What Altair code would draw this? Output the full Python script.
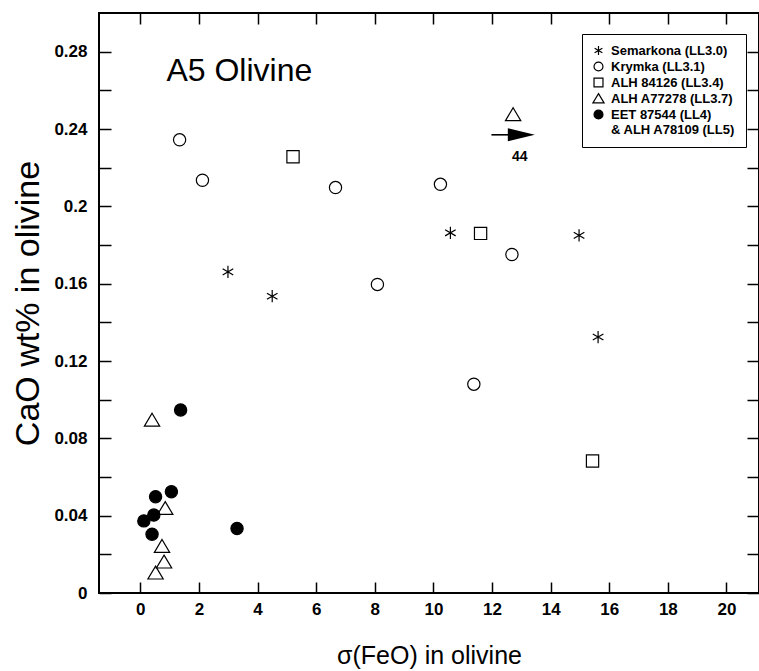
import altair as alt
import pandas as pd

# ---------------- data ----------------
series_names = [
    "Semarkona (LL3.0)",
    "Krymka (LL3.1)",
    "ALH 84126 (LL3.4)",
    "ALH A77278 (LL3.7)",
    "EET 87544 (LL4)",
    "& ALH A78109 (LL5)",
]

semarkona_x = [2.99, 4.50, 10.58, 14.97, 15.62]
semarkona_y = [0.1661, 0.1535, 0.1863, 0.1850, 0.1324]

krymka_x = [1.34, 2.12, 6.66, 8.09, 10.24, 12.68, 11.38]
krymka_y = [0.2344, 0.2135, 0.2097, 0.1596, 0.2114, 0.1751, 0.1080]

alh84126_x = [5.21, 11.61, 15.43]
alh84126_y = [0.2256, 0.1860, 0.0683]

alhA77278_x = [12.72, 0.40, 0.85, 0.74, 0.81, 0.52]
alhA77278_y = [0.2475, 0.0895, 0.0438, 0.0242, 0.0161, 0.0104]

eet_x = [1.375, 0.52, 1.06, 0.46, 0.12, 0.40, 3.30]
eet_y = [0.0947, 0.0498, 0.0524, 0.0403, 0.0373, 0.0304, 0.0334]

x_ticks = [0, 2, 4, 6, 8, 10, 12, 14, 16, 18, 20]
y_ticks = [0, 0.02, 0.04, 0.06, 0.08, 0.10, 0.12, 0.14, 0.16, 0.18, 0.20, 0.22, 0.24, 0.26, 0.28]

panel_label = ["A5 Olivine"]
panel_label_x = [0.89]
panel_label_y = [0.2702]

arrow_tail_x = [11.98]
arrow_neck_x = [12.62]
arrow_head_x = [13.0]
arrow_y = [0.2370]
arrow_text = ["44"]
arrow_text_x = [12.95]
arrow_text_y = [0.2255]

# ---------------- tables ----------------
rows = []
for name, xs, ys in [
    (series_names[0], semarkona_x, semarkona_y),
    (series_names[1], krymka_x, krymka_y),
    (series_names[2], alh84126_x, alh84126_y),
    (series_names[3], alhA77278_x, alhA77278_y),
    (series_names[4], eet_x, eet_y),
]:
    for xv, yv in zip(xs, ys):
        rows.append({"series": name, "sigma": xv, "cao": yv})
df = pd.DataFrame(rows)

label_df = pd.DataFrame({"t": panel_label, "x": panel_label_x, "y": panel_label_y})
arrow_df = pd.DataFrame({"x": arrow_tail_x, "x2": arrow_neck_x, "xh": arrow_head_x, "y": arrow_y})
arrow_txt_df = pd.DataFrame({"t": arrow_text, "x": arrow_text_x, "y": arrow_text_y})

asterisk = "M0,-1L0,1M-0.866,-0.5L0.866,0.5M-0.866,0.5L0.866,-0.5"
triangle = "M0,-1.1L1.25,1L-1.25,1Z"
blank = "M0,0L0,0"
shape_range = [asterisk, "circle", "square", triangle, "circle", blank]
fill_range = ["transparent", "transparent", "transparent", "transparent", "black", "transparent"]
stroke_range = ["black", "black", "black", "black", "black", "transparent"]

FONT = "Liberation Sans"

x_scale = alt.Scale(domain=[-1.41, 21.11], nice=False, zero=False)
y_scale = alt.Scale(domain=[0, 0.3], nice=False, zero=False)

label_expr = "round(datum.value*100) % 4 == 0 ? '' + (round(datum.value*100)/100) : ''"

legend = alt.Legend(
    title=None,
    orient="none",
    legendX=483,
    legendY=21,
    strokeColor="black",
    padding=10,
    labelFont=FONT,
    labelFontWeight="bold",
    labelFontSize=13,
    labelColor="black",
    labelOffset=6,
    rowPadding=1,
    symbolSize=80,
    symbolStrokeWidth=1.2,
    fillColor="white",
)

points = alt.Chart(df).mark_point(size=150, strokeWidth=1.2, opacity=1).encode(
    x=alt.X(
        "sigma:Q",
        scale=x_scale,
        axis=alt.Axis(
            orient="bottom",
            values=x_ticks,
            title="σ(FeO) in olivine",
            offset=-11,
            tickSize=11,
            domain=False,
            labelPadding=8,
            titlePadding=26,
        ),
    ),
    y=alt.Y(
        "cao:Q",
        scale=y_scale,
        axis=alt.Axis(
            orient="left",
            values=y_ticks,
            labelExpr=label_expr,
            title="CaO wt% in olivine",
            offset=-12,
            tickSize=12,
            domain=False,
            labelPadding=12,
            titlePadding=8,
        ),
    ),
    shape=alt.Shape("series:N", scale=alt.Scale(domain=series_names, range=shape_range), legend=legend),
    fill=alt.Fill("series:N", scale=alt.Scale(domain=series_names, range=fill_range), legend=legend),
    stroke=alt.Stroke("series:N", scale=alt.Scale(domain=series_names, range=stroke_range), legend=legend),
)

panel = alt.Chart(label_df).mark_text(
    align="left", baseline="middle", font=FONT, fontSize=32, color="black"
).encode(
    x=alt.X("x:Q", scale=x_scale, axis=alt.Axis(orient="top", values=x_ticks, labels=False, title=None,
                                               offset=-11, tickSize=11, domain=False)),
    y=alt.Y("y:Q", scale=y_scale, axis=alt.Axis(orient="right", values=y_ticks, labels=False, title=None,
                                               offset=-12, tickSize=12, domain=False)),
    text="t:N",
)

arrow_line = alt.Chart(arrow_df).mark_rule(color="black", strokeWidth=1.6).encode(
    x=alt.X("x:Q", scale=x_scale, axis=None),
    x2="x2:Q",
    y=alt.Y("y:Q", scale=y_scale, axis=None),
)

arrow_head = alt.Chart(arrow_df).mark_point(
    shape="M-1,-0.48L1,0L-1,0.48Z", size=729, filled=True, color="black", opacity=1
).encode(
    x=alt.X("xh:Q", scale=x_scale, axis=None),
    y=alt.Y("y:Q", scale=y_scale, axis=None),
)

arrow_label = alt.Chart(arrow_txt_df).mark_text(
    font=FONT, fontSize=14, fontWeight="bold", color="black", baseline="middle"
).encode(
    x=alt.X("x:Q", scale=x_scale, axis=None),
    y=alt.Y("y:Q", scale=y_scale, axis=None),
    text="t:N",
)

chart = (
    alt.layer(points, panel, arrow_line, arrow_head, arrow_label)
    .resolve_axis(x="independent", y="independent")
    .properties(
        width=660,
        height=580,
        padding={"left": 99, "top": 13, "right": 0, "bottom": 78},
        autosize=alt.AutoSizeParams(type="none"),
    )
    .configure_view(stroke="black", strokeWidth=2)
    .configure_axis(
        labelFont=FONT,
        labelFontWeight="bold",
        labelFontSize=17,
        labelColor="black",
        tickColor="black",
        tickWidth=1.5,
        titleFont=FONT,
        titleFontWeight="normal",
        titleColor="black",
        grid=False,
    )
    .configure_axisX(titleFontSize=25)
    .configure_axisY(titleFontSize=34)
)

chart.save("out.html", embed_options={"renderer": "svg", "actions": False})
